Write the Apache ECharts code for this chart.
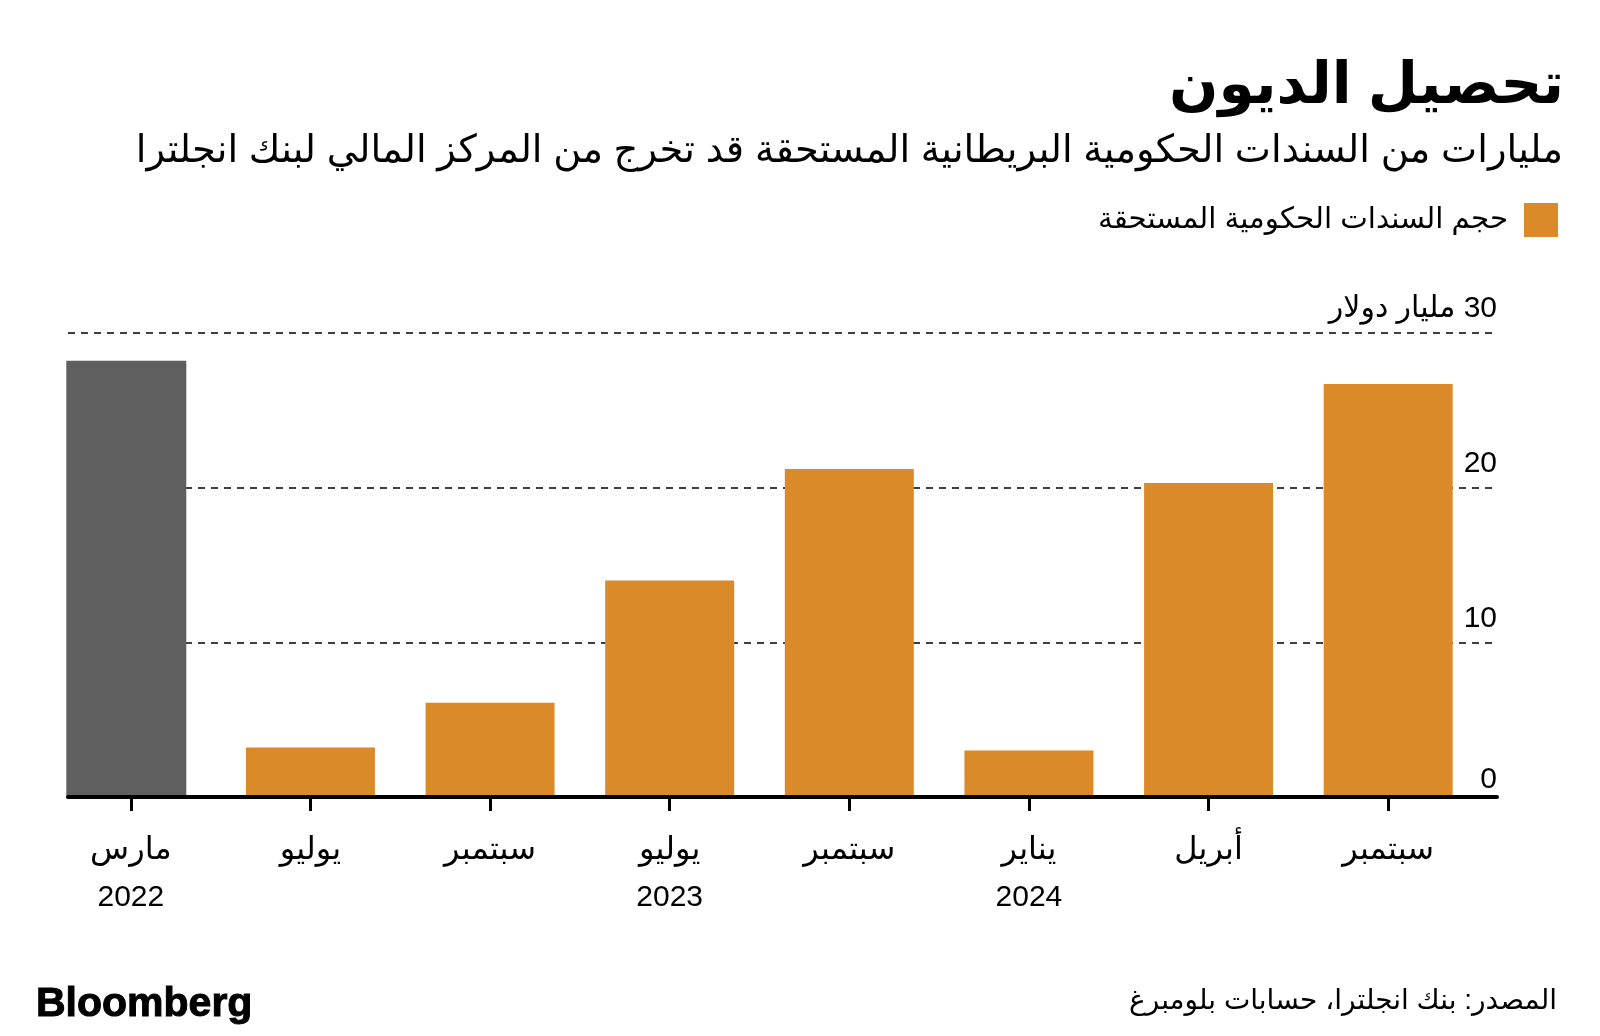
<!DOCTYPE html>
<html>
<head>
<meta charset="utf-8">
<script src="https://cdn.jsdelivr.net/npm/echarts@6/dist/echarts.min.js"></script>
<style>
html,body{margin:0;padding:0;background:#fff;}
#chart{width:1600px;height:1036px;}
</style>
</head>
<body>
<div id="chart"></div>
<script>
// ---- data ----
const categories = ['مارس\n2022', 'يوليو', 'سبتمبر', 'يوليو\n2023', 'سبتمبر', 'يناير\n2024', 'أبريل', 'سبتمبر'];
const highlightValues = [28.2, '-', '-', '-', '-', '-', '-', '-'];
const maturingValues = ['-', 3.2, 6.1, 14.0, 21.2, 3.0, 20.3, 26.7];
const yTicks = [0, 10, 20, 30];
const seriesName = 'حجم السندات الحكومية المستحقة';
const titleText = 'تحصيل الديون';
const subtitleText = 'مليارات من السندات الحكومية البريطانية المستحقة قد تخرج من المركز المالي لبنك انجلترا';
const unitText = 'مليار دولار';
const sourceText = 'المصدر: بنك انجلترا، حسابات بلومبرغ';

const FONT = "'Liberation Sans', 'DejaVu Sans', sans-serif";
const ORANGE = '#DA8A28';
const GRAY = '#5F5F5F';

const chart = echarts.init(document.getElementById('chart'), null, {renderer: 'canvas'});
const gridTop = 333, gridHeight = 464;

function xLabel(v) {
  const parts = v.split('\n');
  let s = '{m|' + parts[0] + '}';
  if (parts[1]) s += '\n{y|' + parts[1] + '}';
  return s;
}

chart.setOption({
  animation: false,
  backgroundColor: '#ffffff',
  textStyle: {fontFamily: FONT},
  title: [
    {text: titleText, right: 31, top: 53,
     textStyle: {fontFamily: FONT, fontSize: 58, fontWeight: 'bold', color: '#000'}},
    {text: subtitleText, right: 32, top: 127,
     textStyle: {fontFamily: FONT, fontSize: 38.4, fontWeight: 'normal', color: '#000'}},
    {text: sourceText, right: 38, top: 982,
     textStyle: {fontFamily: FONT, fontSize: 28, fontWeight: 'normal', color: '#000'}},
    {text: 'Bloomberg', left: 31, top: 979,
     textStyle: {fontFamily: "'Liberation Sans', sans-serif", fontSize: 41, fontWeight: 'bold', color: '#000',
       textBorderColor: '#000', textBorderWidth: 1}}
  ],
  legend: {
    data: [seriesName],
    right: 37, top: 198,
    align: 'right',
    itemWidth: 34, itemHeight: 34,
    icon: 'rect',
    textStyle: {fontFamily: FONT, fontSize: 29.3, color: '#000', padding: [3, 11, 0, 0]}
  },
  grid: [
    {left: 41, right: 122, top: gridTop, height: gridHeight},
    {left: 68, right: 103, top: gridTop, height: gridHeight}
  ],
  xAxis: [
    {type: 'category', gridIndex: 0, data: categories,
     axisLine: {show: false},
     axisTick: {show: true, alignWithLabel: true, length: 14, lineStyle: {color: '#000', width: 3}},
     axisLabel: {fontFamily: FONT, color: '#000', margin: 30, interval: 0,
       formatter: xLabel,
       rich: {m: {fontSize: 32, lineHeight: 47, fontFamily: FONT, color: '#000'},
              y: {fontSize: 30, lineHeight: 47, fontFamily: FONT, color: '#000'}}}},
    {type: 'category', gridIndex: 1, data: categories, z: 10,
     axisLine: {show: true, lineStyle: {color: '#000', width: 4}},
     axisTick: {show: false}, axisLabel: {show: false}}
  ],
  yAxis: [
    {type: 'value', gridIndex: 0, min: 0, max: 30, interval: 10, show: false, splitLine: {show: false}},
    {type: 'value', gridIndex: 1, min: 0, max: 30, interval: 10, position: 'right',
     axisLine: {show: false}, axisTick: {show: false},
     splitLine: {show: true, lineStyle: {color: '#000', width: 1.5, type: [7, 6]}},
     axisLabel: {inside: true, margin: 0, fontFamily: FONT, fontSize: 30, color: '#000',
       verticalAlign: 'bottom', padding: [0, 0, 9, 0],
       formatter: function (v) {
         if (v === 0) return '';
         if (v === yTicks[yTicks.length - 1]) return '\u200F' + v + ' ' + unitText;
         return String(v);
       }}},
    {type: 'value', gridIndex: 1, min: 0, max: 30, interval: 10, position: 'right',
     axisLine: {show: false}, axisTick: {show: false}, splitLine: {show: false},
     axisLabel: {inside: true, margin: 0, fontFamily: FONT, fontSize: 30, color: '#000',
       verticalAlign: 'bottom', padding: [0, 0, 2, 0],
       formatter: function (v) { return v === yTicks[0] ? String(v) : ''; }}}
  ],
  series: [
    {type: 'bar', name: 'highlight', xAxisIndex: 0, yAxisIndex: 0, data: highlightValues,
     barWidth: 120, barGap: '-100%', itemStyle: {color: GRAY}, z: 3},
    {type: 'bar', name: seriesName, xAxisIndex: 0, yAxisIndex: 0, data: maturingValues,
     barWidth: 129, barGap: '-100%', itemStyle: {color: ORANGE}, z: 3}
  ]
});
</script>
</body>
</html>
